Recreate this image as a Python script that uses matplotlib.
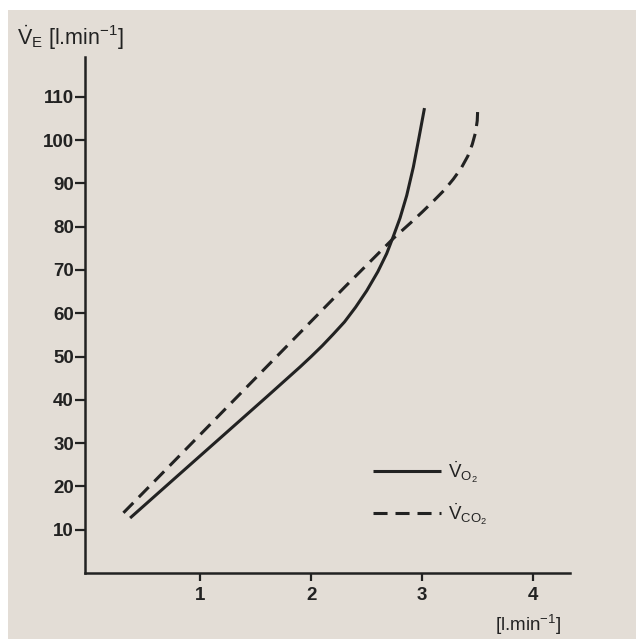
import matplotlib
matplotlib.use('Agg')
import matplotlib.pyplot as plt
from matplotlib.patches import Rectangle

# ventilace vs. VO2 / VCO2
vo2_x = [0.37, 0.8, 1.2, 1.6, 1.9, 2.0, 2.1, 2.2, 2.3, 2.4, 2.5, 2.6, 2.68,
         2.74, 2.8, 2.86, 2.92, 2.97, 3.02]
vo2_y = [12.7, 22.5, 31.6, 40.7, 47.6, 50.0, 52.5, 55.2, 58.0, 61.4, 65.2, 69.6, 73.8,
         77.8, 82.0, 87.2, 93.8, 100.5, 107.4]
vco2_x = [0.31, 0.8, 1.3, 1.8, 2.3, 2.74, 2.9, 3.0, 3.1, 3.2, 3.28, 3.35, 3.41,
          3.45, 3.48, 3.495, 3.50]
vco2_y = [13.9, 26.7, 39.8, 52.9, 66.0, 77.3, 81.0, 83.4, 85.9, 88.5, 91.0, 93.5, 96.3,
          99.0, 101.8, 104.5, 107.6]

x_ticks = [1, 2, 3, 4]
y_ticks = [10, 20, 30, 40, 50, 60, 70, 80, 90, 100, 110]

ink = '#222222'
paper = '#e3ddd6'

plt.rcParams['font.family'] = ['Liberation Sans', 'DejaVu Sans']
plt.rcParams['mathtext.fontset'] = 'custom'
plt.rcParams['mathtext.rm'] = 'Liberation Sans'
plt.rcParams['mathtext.it'] = 'Liberation Sans'
plt.rcParams['mathtext.bf'] = 'Liberation Sans:bold'

fig = plt.figure(figsize=(6.36, 6.39), dpi=100, facecolor='white')
fig.patches.append(Rectangle((8 / 636, 0), 1, 1 - 10 / 639, transform=fig.transFigure,
                             facecolor=paper, edgecolor='none', zorder=-5))

ax = fig.add_axes([85 / 636, 1 - 573 / 639, 485 / 636, 516 / 639])
ax.set_facecolor('none')

ax.plot(vo2_x, vo2_y, color=ink, lw=2.2, solid_capstyle='butt',
        label=r'$\dot{\mathrm{V}}_{\mathrm{O_2}}$')
ax.plot(vco2_x, vco2_y, color=ink, lw=2.2, dashes=(4.6, 2.6),
        label=r'$\dot{\mathrm{V}}_{\mathrm{CO_2}}$')

ax.set_xlim(-0.036, 4.33)
ax.set_ylim(0, 119.2)

for s in ['top', 'right']:
    ax.spines[s].set_visible(False)
for s in ['left', 'bottom']:
    ax.spines[s].set_linewidth(1.8)
    ax.spines[s].set_color(ink)

ax.set_xticks(x_ticks)
ax.set_yticks(y_ticks)
ax.tick_params(axis='y', direction='out', length=7, width=1.6, pad=1, colors=ink,
               labelsize=13.5)
ax.tick_params(axis='x', direction='out', length=6, width=1.6, pad=4, colors=ink,
               labelsize=13.5)
for lab in ax.get_xticklabels() + ax.get_yticklabels():
    lab.set_fontweight('bold')

leg = ax.legend(loc='center left', bbox_to_anchor=(0.594, 0.155), frameon=False,
                fontsize=13.5, handlelength=3.6, handletextpad=0.4, labelspacing=0.85,
                borderpad=0, borderaxespad=0)
for t in leg.get_texts():
    t.set_color(ink)

fig.text(17 / 636, 1 - 38 / 639, r'$\dot{\mathrm{V}}_{\mathrm{E}}$ [l.min$^{\mathrm{-1}}$]',
         fontsize=15.5, color=ink, va='center', ha='left')
fig.text(528 / 636, 1 - 625 / 639, r'[l.min$^{\mathrm{-1}}$]',
         fontsize=13.5, color=ink, va='center', ha='center')

fig.savefig('out.png', dpi=100, facecolor=fig.get_facecolor())
